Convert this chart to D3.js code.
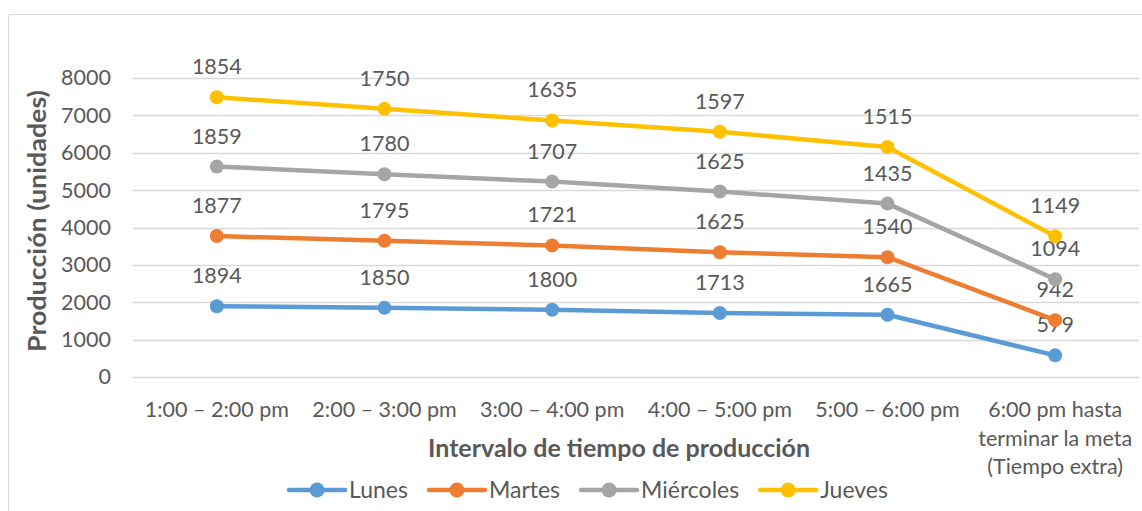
<!DOCTYPE html>
<html><head><meta charset="utf-8">
<script src="https://cdn.jsdelivr.net/npm/d3@7"></script>
<style>body{margin:0;background:#fff}svg{display:block}</style>
</head><body>
<svg id="c" width="1142" height="511"></svg>
<script>
const categories = ["1:00 – 2:00 pm","2:00 – 3:00 pm","3:00 – 4:00 pm","4:00 – 5:00 pm","5:00 – 6:00 pm","6:00 pm hasta|terminar la meta|(Tiempo extra)"];
const seriesNames = ["Lunes","Martes","Miércoles","Jueves"];
const lunes = [1894,1850,1800,1713,1665,579];
const martes = [1877,1795,1721,1625,1540,942];
const miercoles = [1859,1780,1707,1625,1435,1094];
const jueves = [1854,1750,1635,1597,1515,1149];
const yTicks = [0,1000,2000,3000,4000,5000,6000,7000,8000];
const colors = ["#5b9bd5","#ed7d31","#a5a5a5","#ffc000"];

const svg = d3.select("#c");
const font = "Lato, 'Open Sans', sans-serif";
const tc = "#595959";
const fs = 21.5;

// frame
svg.append("path").attr("d","M8.5,511 V14.5 H1142").attr("fill","none").attr("stroke","#d9d9d9");

const x = d3.scaleBand().domain(d3.range(categories.length)).range([133,1139]);
const y = d3.scaleLinear().domain([0,8000]).range([377,78]);

// grid
svg.append("g").selectAll("line").data(yTicks).join("line")
  .attr("x1",133).attr("x2",1139).attr("y1",d=>Math.round(y(d))+0.5).attr("y2",d=>Math.round(y(d))+0.5)
  .attr("stroke","#d9d9d9").attr("stroke-width",1.5);

// y axis labels
const ya = svg.append("g").attr("transform","translate(111,0)").call(d3.axisLeft(y).tickValues(yTicks).tickFormat(d3.format("d")).tickSize(0).tickPadding(0));
ya.select(".domain").remove();
ya.selectAll("text").attr("font-family",font).attr("font-size",fs).attr("fill",tc);

// x axis labels
const xa = svg.append("g").attr("transform","translate(0,398)").call(d3.axisBottom(x).tickSize(0).tickPadding(0).tickFormat(()=>""));
xa.select(".domain").remove();
xa.selectAll(".tick text").each(function(d){
  const t = d3.select(this).attr("font-family",font).attr("font-size",fs).attr("fill",tc).attr("dy",null);
  categories[d].split("|").forEach((s,i)=>t.append("tspan").attr("x",0).attr("y",i*28.5+19).text(s));
});

// titles
svg.append("text").attr("x",619).attr("y",457).attr("text-anchor","middle").attr("font-family",font)
  .attr("font-weight","bold").attr("font-size",24).attr("fill",tc)
  .attr("textLength",382).attr("lengthAdjust","spacingAndGlyphs").text("Intervalo de tiempo de producción");
svg.append("text").attr("transform","translate(46,221) rotate(-90)").attr("text-anchor","middle").attr("font-family",font)
  .attr("font-weight","bold").attr("font-size",24).attr("fill",tc)
  .attr("textLength",262).attr("lengthAdjust","spacingAndGlyphs").text("Producción (unidades)");

// stacked data
const raw = [lunes,martes,miercoles,jueves];
const rows = categories.map((c,i)=>({i, Lunes:lunes[i], Martes:martes[i], "Miércoles":miercoles[i], Jueves:jueves[i]}));
const stack = d3.stack().keys(seriesNames)(rows);

const line = d3.line().x(d=>x(d.data.i)+x.bandwidth()/2).y(d=>y(d[1]));
stack.forEach((s,k)=>{
  const g = svg.append("g");
  g.append("path").datum(s).attr("d",line).attr("fill","none").attr("stroke",colors[k]).attr("stroke-width",4.5).attr("stroke-linejoin","round");
  g.selectAll("circle").data(s).join("circle").attr("cx",d=>x(d.data.i)+x.bandwidth()/2).attr("cy",d=>y(d[1])).attr("r",7).attr("fill",colors[k]);
  g.selectAll("text").data(s).join("text").attr("x",d=>x(d.data.i)+x.bandwidth()/2).attr("y",d=>y(d[1])-23)
    .attr("text-anchor","middle").attr("font-family",font).attr("font-size",fs).attr("fill",tc).text((d,i)=>raw[k][i]);
});

// legend (measured layout, centered)
const leg = svg.append("g");
let cx = 0;
const items = seriesNames.map((n,k)=>{
  const g = leg.append("g");
  g.append("line").attr("x1",0).attr("x2",56).attr("stroke",colors[k]).attr("stroke-width",4.5).attr("stroke-linecap","round");
  g.append("circle").attr("cx",28).attr("r",7.5).attr("fill",colors[k]);
  const t = g.append("text").attr("x",60).attr("y",8).attr("font-family",font).attr("font-size",23).attr("fill",tc).text(n);
  const w = 60 + t.node().getComputedTextLength();
  g.attr("transform",`translate(${cx},490)`);
  cx += w + 21;
  return w;
});
const total = cx - 21;
leg.attr("transform",`translate(${588.5 - total/2},0)`);
</script>
</body></html>
